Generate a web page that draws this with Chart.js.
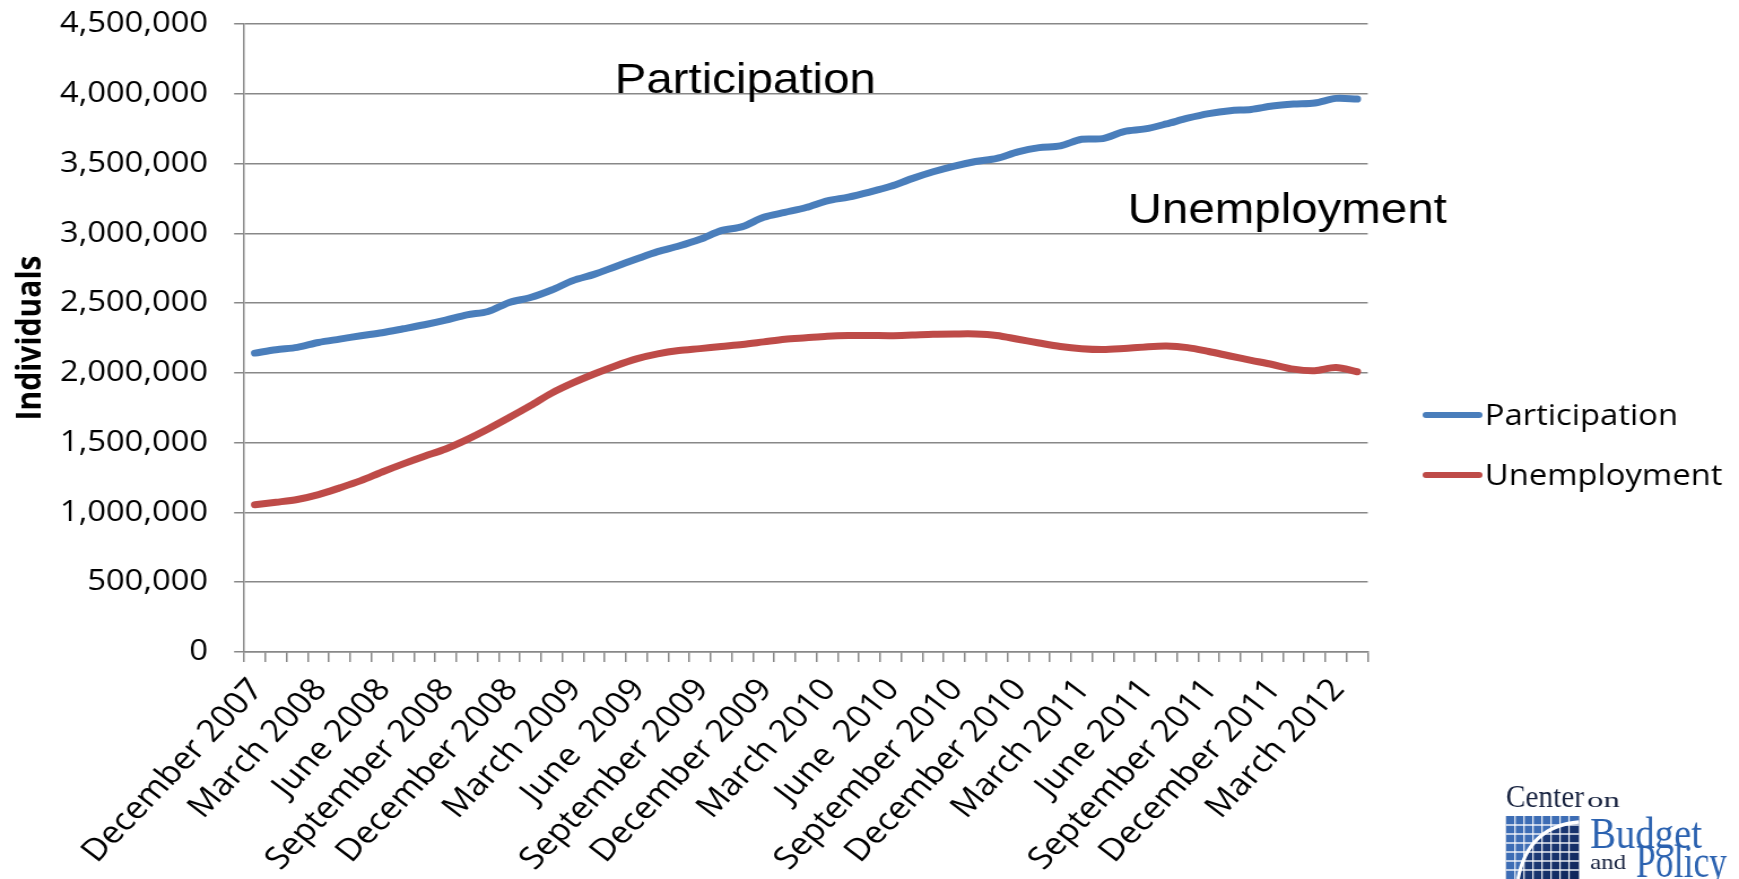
<!DOCTYPE html>
<html>
<head>
<meta charset="utf-8">
<script src="https://cdn.jsdelivr.net/npm/chart.js@4.4.1/dist/chart.umd.min.js"></script>
<style>
  html, body { margin: 0; padding: 0; background: #fff; overflow: hidden; }
  #wrap { position: absolute; left: 0; top: 0; width: 1539px; height: 879px;
          transform-origin: 0 0; transform: scaleX(1.12995); }
  canvas { display: block; }
</style>
</head>
<body>
<div id="wrap"><canvas id="c" width="1539" height="879"></canvas></div>
<script>
// Monthly caseload, December 2007 - April 2012
const months = [
  "December 2007", "January 2008", "February 2008", "March 2008", "April 2008", "May 2008",
  "June 2008", "July 2008", "August 2008", "September 2008", "October 2008", "November 2008",
  "December 2008", "January 2009", "February 2009", "March 2009", "April 2009", "May 2009",
  "June  2009", "July 2009", "August 2009", "September 2009", "October 2009", "November 2009",
  "December 2009", "January 2010", "February 2010", "March 2010", "April 2010", "May 2010",
  "June  2010", "July 2010", "August 2010", "September 2010", "October 2010", "November 2010",
  "December 2010", "January 2011", "February 2011", "March 2011", "April 2011", "May 2011",
  "June 2011", "July 2011", "August 2011", "September 2011", "October 2011", "November 2011",
  "December 2011", "January 2012", "February 2012", "March 2012", "April 2012"
];

const participation = [
  2142000, 2166000, 2183000, 2218000, 2242000, 2266000, 2288000, 2316000, 2345000, 2378000,
  2416000, 2440000, 2505000, 2540000, 2594000, 2661000, 2706000, 2761000, 2816000, 2869000,
  2909000, 2957000, 3019000, 3048000, 3115000, 3150000, 3185000, 3233000, 3260000, 3296000,
  3337000, 3392000, 3441000, 3482000, 3515000, 3537000, 3584000, 3614000, 3627000, 3674000,
  3679000, 3729000, 3748000, 3784000, 3825000, 3858000, 3879000, 3888000, 3912000, 3926000,
  3934000, 3967000, 3962000
];

const unemployment = [
  1055000, 1073000, 1093000, 1128000, 1176000, 1228000, 1290000, 1348000, 1403000, 1455000,
  1522000, 1598000, 1680000, 1765000, 1855000, 1928000, 1992000, 2050000, 2100000, 2136000,
  2160000, 2174000, 2189000, 2203000, 2222000, 2241000, 2252000, 2263000, 2268000, 2268000,
  2266000, 2271000, 2277000, 2279000, 2279000, 2268000, 2241000, 2214000, 2189000, 2173000,
  2167000, 2175000, 2186000, 2192000, 2181000, 2153000, 2121000, 2090000, 2060000, 2027000,
  2016000, 2038000, 2008000
];

const seriesNames = ["Participation", "Unemployment"];
const seriesColors = ["#4A7EBB", "#BE4B48"];
const yMin = 0, yMax = 4500000, yStep = 500000;
const labelEvery = 3;

// drawing surface is widened horizontally by the wrapper transform
const W = 1539, H = 879, SX = 1739 / W;
const PLOT_LEFT = 216.2, PLOT_RIGHT = 1210.4, PLOT_TOP = 24, PLOT_BOTTOM = 652;
const GRID = "#888888";
const TICK_FONT = { family: "'Open Sans', sans-serif", size: 29 };
const X_TICK_FONT = { family: "'Open Sans', sans-serif", size: 31 };

const overlay = {
  id: "overlay",
  afterDraw(chart) {
    const c = chart.ctx;
    c.save();
    // text boxes inside the plot
    c.fillStyle = "#000";
    c.textAlign = "left";
    c.textBaseline = "alphabetic";
    c.font = "42px 'Liberation Sans', Arial, sans-serif";
    c.fillText("Participation", 544, 93);
    c.fillText("Unemployment", 998, 223);

    // legend
    chart.data.datasets.forEach((ds, i) => {
      const y = 415 + i * 60;
      c.strokeStyle = ds.borderColor;
      c.lineWidth = 6;
      c.lineCap = "round";
      c.beginPath();
      c.moveTo(1262, y);
      c.lineTo(1309, y);
      c.stroke();
      c.fillStyle = "#000";
      c.font = "29px 'Open Sans', sans-serif";
      c.fillText(ds.label, 1314, y + 10);
    });
    c.restore();

    // organisation mark, bottom right
    c.save();
    c.scale(1 / SX, 1);
    const fit = (txt, x, y, w, font, color) => {
      c.font = font;
      const m = c.measureText(txt).width;
      c.save();
      c.translate(x, y);
      c.scale(w / m, 1);
      c.fillStyle = color;
      c.fillText(txt, 0, 0);
      c.restore();
    };
    const ix = 1506, iy = 816, iw = 73, ih = 63;
    const g = c.createLinearGradient(ix, iy, ix + iw, iy + ih);
    g.addColorStop(0, "#2a4f92");
    g.addColorStop(1, "#0e2458");
    c.fillStyle = g;
    c.fillRect(ix, iy, iw, ih);
    c.save();
    c.beginPath();
    c.moveTo(ix, iy + ih);
    c.lineTo(ix + 12, iy + ih);
    c.quadraticCurveTo(ix + 22, iy + 10, ix + iw, iy + 6);
    c.lineTo(ix + iw, iy);
    c.lineTo(ix, iy);
    c.closePath();
    c.clip();
    c.fillStyle = "#3d6db5";
    c.fillRect(ix, iy, iw, ih);
    c.restore();
    c.strokeStyle = "rgba(255,255,255,0.9)";
    c.lineWidth = 1.4;
    for (let k = 1; k < 8; k++) {
      c.beginPath();
      c.moveTo(ix + k * 9, iy);
      c.lineTo(ix + k * 9, iy + ih);
      c.stroke();
    }
    for (let k = 1; k < 7; k++) {
      c.beginPath();
      c.moveTo(ix, iy + k * 9);
      c.lineTo(ix + iw, iy + k * 9);
      c.stroke();
    }
    c.strokeStyle = "#fff";
    c.lineWidth = 3.5;
    c.beginPath();
    c.moveTo(ix + 12, iy + ih);
    c.quadraticCurveTo(ix + 22, iy + 10, ix + iw, iy + 6);
    c.stroke();

    c.textBaseline = "alphabetic";
    fit("Center", 1506, 807, 78, "31px 'Liberation Serif', serif", "#17223f");
    fit("on", 1587, 807, 33, "21px 'Liberation Serif', serif", "#17223f");
    fit("Budget", 1590, 848, 112, "45px 'Liberation Serif', serif", "#2b62b0");
    fit("and", 1590, 869, 36, "22px 'Liberation Serif', serif", "#17223f");
    fit("Policy", 1636, 877, 91, "46px 'Liberation Serif', serif", "#2b62b0");
    c.restore();
  }
};

const lineStyle = {
  borderWidth: 7,
  pointRadius: 0,
  pointHoverRadius: 0,
  tension: 0.3,
  borderCapStyle: "round",
  borderJoinStyle: "round",
  fill: false
};

new Chart(document.getElementById("c").getContext("2d"), {
  type: "line",
  data: {
    labels: months,
    datasets: [
      Object.assign({ label: seriesNames[0], data: participation, borderColor: seriesColors[0] }, lineStyle),
      Object.assign({ label: seriesNames[1], data: unemployment, borderColor: seriesColors[1] }, lineStyle)
    ]
  },
  options: {
    responsive: false,
    animation: false,
    devicePixelRatio: 1,
    layout: { padding: { left: 0, right: W - PLOT_RIGHT, top: PLOT_TOP, bottom: 0 } },
    plugins: { legend: { display: false }, tooltip: { enabled: false } },
    scales: {
      x: {
        type: "category",
        offset: true,
        grid: { display: true, offset: true, drawOnChartArea: false, drawTicks: true,
                tickLength: 10, color: GRID, lineWidth: 1.5 },
        border: { display: true, color: GRID, width: 1.5 },
        ticks: {
          autoSkip: false, minRotation: 49.5, maxRotation: 49.5, padding: 10, labelOffset: 2,
          color: "#000", font: X_TICK_FONT,
          callback: function (v, i) { return i % labelEvery === 0 ? this.getLabelForValue(v) : ""; }
        },
        afterFit(scale) { scale.height = H - PLOT_BOTTOM; }
      },
      y: {
        min: yMin, max: yMax,
        grid: { color: GRID, lineWidth: 1.5, tickLength: 9, drawTicks: true },
        border: { display: true, color: GRID, width: 1.5 },
        ticks: { stepSize: yStep, padding: 23, color: "#000", font: TICK_FONT,
                 callback: v => v.toLocaleString("en-US") },
        title: { display: true, text: "Individuals", color: "#000",
                 font: { family: "'Open Sans', sans-serif", size: 30, weight: "bold" },
                 padding: { top: 9, bottom: 0 } },
        afterFit(scale) {
          scale.width = PLOT_LEFT;
          scale.paddingTop = 0;
          scale.paddingBottom = 0;
        }
      }
    }
  },
  plugins: [overlay]
});
</script>
</body>
</html>
